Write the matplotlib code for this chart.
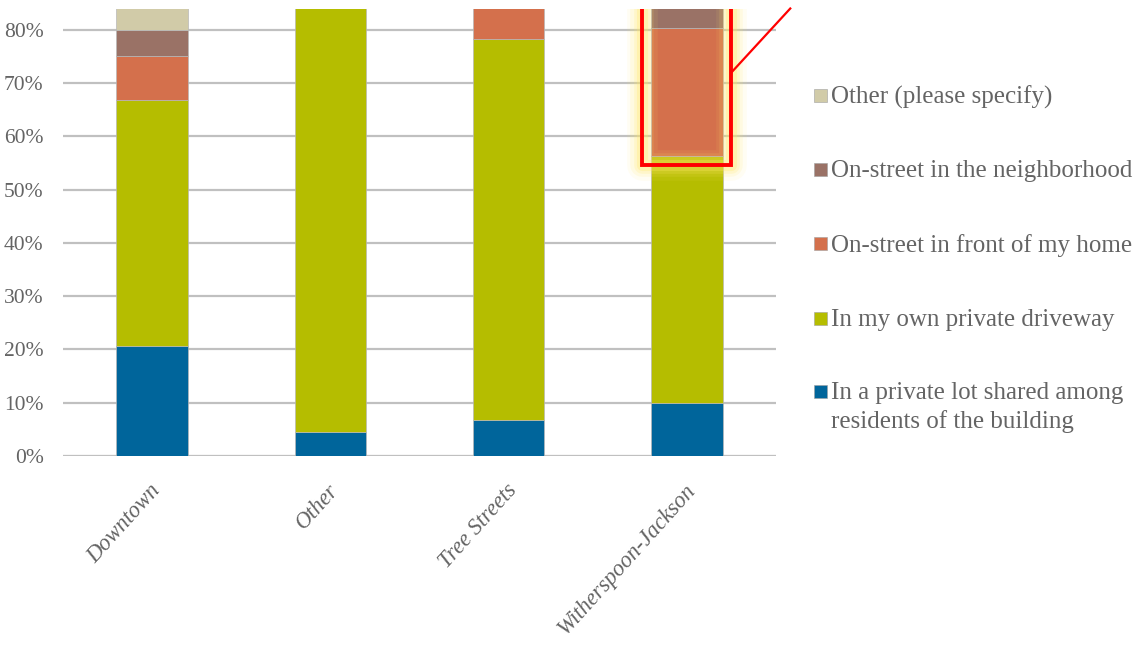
import matplotlib
matplotlib.use("Agg")
import matplotlib.pyplot as plt
from matplotlib.transforms import ScaledTranslation
import numpy as np

# Parking location by neighborhood (share of respondents)
categories = ["Downtown", "Other", "Tree Streets", "Witherspoon-Jackson"]
private_lot = [0.207, 0.045, 0.067, 0.099]
own_driveway = [0.462, 0.864, 0.716, 0.464]
front_of_home = [0.082, 0.045, 0.119, 0.240]
neighborhood = [0.049, 0.023, 0.045, 0.100]
other_specify = [0.200, 0.023, 0.053, 0.097]

series_labels = [
    "In a private lot shared among\nresidents of the building",
    "In my own private driveway",
    "On-street in front of my home",
    "On-street in the neighborhood",
    "Other (please specify)",
]
series_colors = ["#00659b", "#b5bd00", "#d4704c", "#9a7266", "#d1cba8"]
series_values = [private_lot, own_driveway, front_of_home, neighborhood, other_specify]

plt.rcParams["font.family"] = ["Liberation Serif", "DejaVu Serif"]
text_gray = "#646464"
grid_gray = "#c0c0c0"

W, H = 1136, 646
fig = plt.figure(figsize=(W / 100, H / 100), dpi=100)
ax = fig.add_axes([63 / W, 1 - 456 / H, (776 - 63) / W, (456 - 8.5) / H])

x = np.arange(len(categories))
bar_w = 0.40
bottom = np.zeros(len(categories))
for vals, col in zip(series_values, series_colors):
    vals = np.array(vals)
    ax.bar(x, vals, bar_w, bottom=bottom, color=col, edgecolor="#b8b8b8",
           linewidth=0.5, zorder=3)
    bottom += vals

ax.set_xlim(-0.5, 3.5)
ax.set_ylim(0, 0.84)
ticks = np.arange(0, 0.81, 0.1)
ax.set_yticks(ticks)
ax.set_yticklabels([f"{int(round(v * 100))}%" for v in ticks],
                   fontsize=15.5, color=text_gray)
ax.yaxis.grid(True, color=grid_gray, linewidth=1.6, zorder=0)
ax.set_axisbelow(True)
for s in ax.spines.values():
    s.set_visible(False)
ax.axhline(0, color=grid_gray, linewidth=2.2, zorder=2)
ax.tick_params(axis="both", length=0)
ax.tick_params(axis="y", pad=14)

ax.set_xticks(x)
ax.set_xticklabels(categories, rotation=48, ha="right", va="center",
                   rotation_mode="anchor", fontsize=16.3, color=text_gray,
                   style="italic")
offset = ScaledTranslation(5 / 100, -26 / 100, fig.dpi_scale_trans)
for lbl in ax.get_xticklabels():
    lbl.set_transform(lbl.get_transform() + offset)

# Highlight box around the Witherspoon-Jackson on-street segment
i = 3
seg_bottom = private_lot[i] + own_driveway[i]
bx0, bx1 = i - bar_w / 2 - 0.05, i + bar_w / 2 + 0.05
by0 = seg_bottom - 0.016
box_x = [bx0, bx0, bx1, bx1]
box_y = [0.84, by0, by0, 0.84]
for lw, a in [(22, 0.08), (17, 0.12), (12, 0.18), (8, 0.28)]:
    ax.plot(box_x, box_y, color="#ffe866", linewidth=lw, alpha=a,
            solid_joinstyle="round", clip_on=True, zorder=4)
ax.plot(box_x, box_y, color="#ff0000", linewidth=2.8,
        solid_joinstyle="miter", clip_on=True, zorder=5)
ax.plot([bx1, bx1 + 0.33], [0.72, 0.84], color="#ff0000", linewidth=1.6,
        clip_on=False, zorder=5)

# Legend, top entry first
legend_rows = [96, 170, 244, 319, 392]
for row, lab, col in zip(legend_rows, series_labels[::-1], series_colors[::-1]):
    fig.patches.append(plt.Rectangle((814 / W, 1 - (row + 6) / H), 13 / W, 13 / H,
                                     transform=fig.transFigure, facecolor=col,
                                     edgecolor="#a0a0a0", linewidth=0.4))
    fig.text(831 / W, 1 - (row - 10) / H, lab, fontsize=18, color=text_gray,
             va="top", ha="left", linespacing=1.33)

fig.savefig("out.png", dpi=100, facecolor="white")
